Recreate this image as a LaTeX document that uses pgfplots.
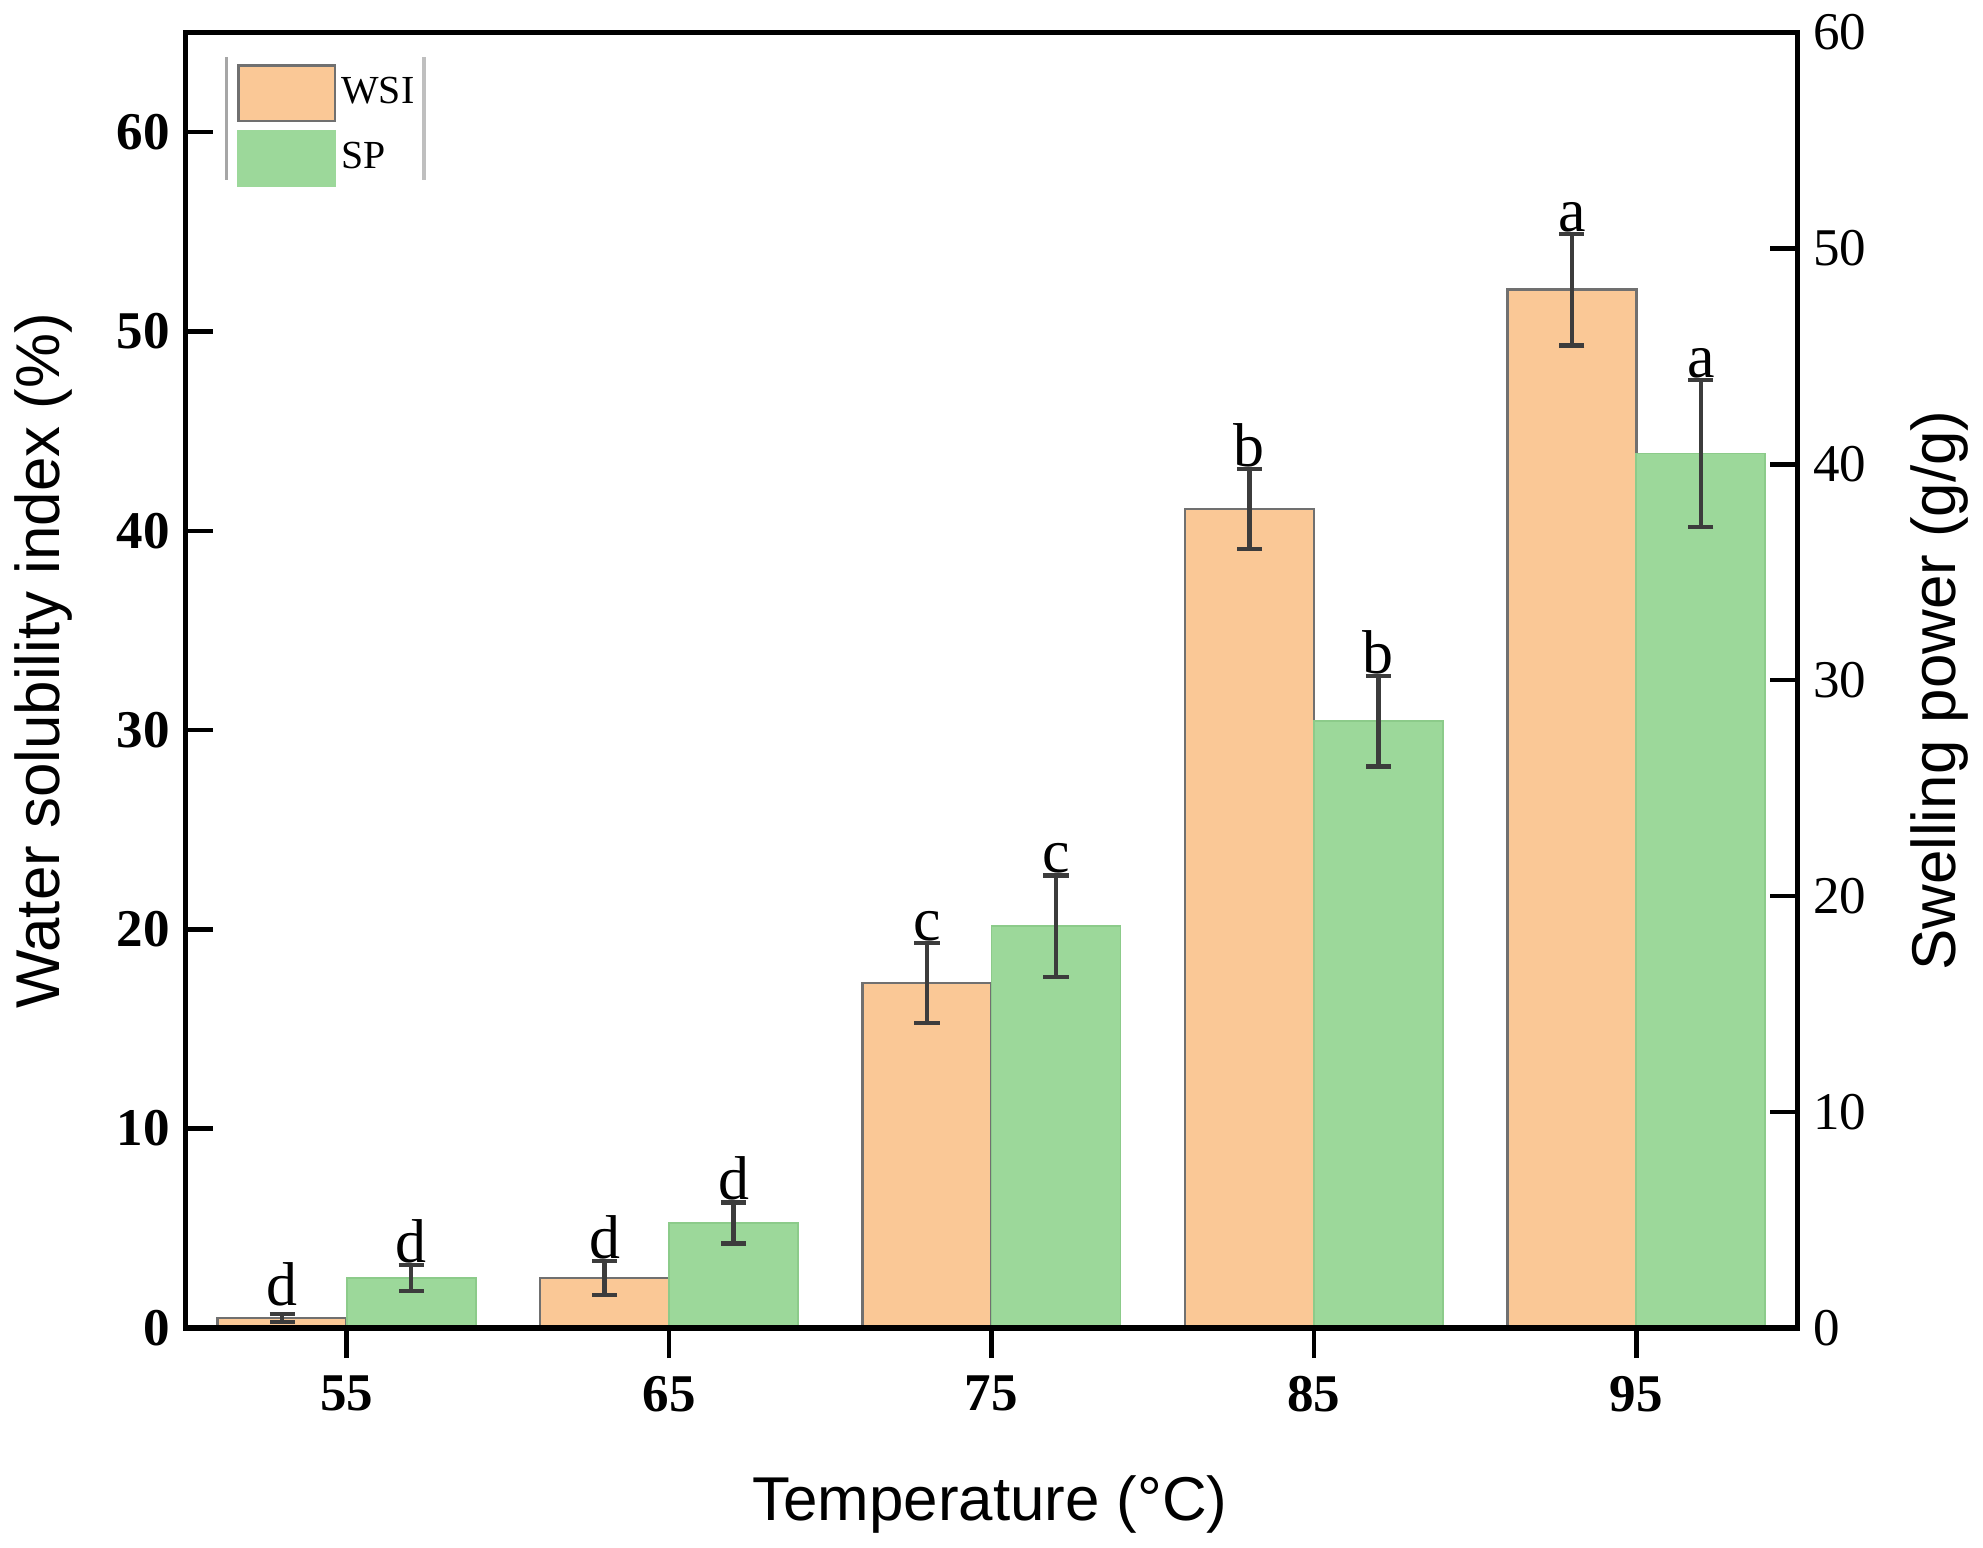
\documentclass[border=0pt]{standalone}
\usepackage{fontspec}
\setmainfont{Liberation Serif}
\setsansfont{Liberation Sans}
\usepackage{pgfplots}
\pgfplotsset{compat=1.18}
\definecolor{peach}{HTML}{FAC896}
\definecolor{leaf}{HTML}{9CD89A}
\definecolor{leafedge}{HTML}{8CCB8A}
\definecolor{edgegray}{HTML}{707070}
\definecolor{errgray}{HTML}{3C3C3C}

\begin{document}
\begin{tikzpicture}
\pgfplotsset{
  common/.style={
    width=12.82cm, height=10.3cm, scale only axis,
    xmin=50, xmax=100,
    axis line style={line width=1.2pt},
    major tick length=2.2mm,
    tick style={line width=1pt, black},
    tick align=inside,
    /pgf/number format/assume math mode=true,
  },
  letters/.style={draw=none, mark=none, nodes near coords, point meta=explicit symbolic,
    nodes near coords style={anchor=south, font=\fontsize{14}{16}\selectfont, inner sep=0.3pt}},
  errs/.style={error bars/.cd, y dir=both, y explicit,
    error bar style={line width=1pt, errgray},
    error mark options={line width=1pt, errgray, mark size=1mm, rotate=90},
    /pgfplots/.cd},
}
\begin{axis}[common,
  ymin=0, ymax=65,
  xtick={55,65,75,85,95},
  ytick={0,10,...,60},
  xtick pos=bottom, ytick pos=left,
  xtick style={yshift=-2.4mm},
  xticklabel style={font=\fontsize{12}{14}\selectfont\bfseries, yshift=-2.6mm},
  yticklabel style={font=\fontsize{12}{14}\selectfont\bfseries},
  xlabel={Temperature (°C)},
  xlabel style={font=\sffamily\fontsize{14}{16}\selectfont, at={(axis description cs:0.499,-0.136)}, anchor=center},
  ylabel={Water solubility index (\%)},
  ylabel style={font=\sffamily\fontsize{14}{16}\selectfont, at={(axis description cs:-0.088,0.515)}, anchor=center},
]
\addplot[ybar, bar width=4, fill=peach, draw=edgegray, line width=0.6pt, errs]
  coordinates {(53,0.5) +- (0,0.2) (63,2.5) +- (0,0.85) (73,17.3) +- (0,2.0) (83,41.1) +- (0,2.0) (93,52.1) +- (0,2.8)};
\addplot[letters] table[meta=lab] {
x y lab
53 1.0 d
63 3.35 d
73 19.3 c
83 43.1 b
93 54.9 a
};
\end{axis}

\begin{axis}[common,
  ymin=0, ymax=60,
  xtick=\empty,
  ytick={0,10,...,60},
  ytick pos=right,
  axis on top,
  yticklabel style={font=\fontsize{12}{14}\selectfont},
  ylabel={Swelling power (g/g)},
  ylabel style={font=\sffamily\fontsize{14}{16}\selectfont, at={(axis description cs:1.088,0.492)}, anchor=center},
  legend style={draw=none, fill=none, anchor=north west, at={(axis description cs:0.029,0.979)},
    font=\fontsize{9}{10}\selectfont, inner xsep=0.3mm, inner ysep=0.3mm, row sep=0.6mm,
    nodes={inner sep=0.4mm}},
  legend cell align=left,
]
\addlegendimage{legend image code/.code={\draw[fill=peach, draw=edgegray, line width=0.6pt] (0mm,-2.2mm) rectangle (7.7mm,2.2mm);}}
\addlegendimage{legend image code/.code={\fill[leaf] (0mm,-2.2mm) rectangle (7.7mm,2.2mm);}}
\addplot[ybar, bar width=4, fill=leaf, draw=leafedge, line width=0.4pt, forget plot, errs]
  coordinates {(57,2.3) +- (0,0.6) (67,4.85) +- (0,0.95) (77,18.6) +- (0,2.35) (87,28.1) +- (0,2.1) (97,40.5) +- (0,3.4)};
\addplot[letters, forget plot] table[meta=lab] {
x y lab
57 2.9 d
67 5.8 d
77 20.95 c
87 30.2 b
97 43.9 a
};
\legend{WSI,SP}
\draw[gray!70, line width=0.7pt] (axis description cs:0.0257,0.981) -- (axis description cs:0.0257,0.886);
\draw[gray!50, line width=0.7pt] (axis description cs:0.148,0.981) -- (axis description cs:0.148,0.886);
\end{axis}
\end{tikzpicture}
\end{document}
